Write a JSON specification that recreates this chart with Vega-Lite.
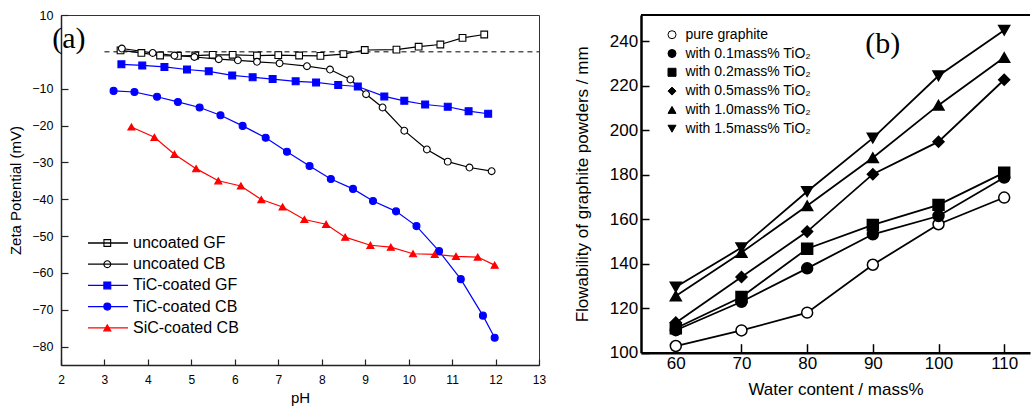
{
  "$schema": "https://vega.github.io/schema/vega-lite/v6.json",
  "background": "white",
  "padding": {"left": 8, "top": 8, "right": 0, "bottom": 0},
  "config": {"view": {"stroke": null}, "font": "Liberation Sans"},
  "resolve": {
    "scale": {"color": "independent", "shape": "independent", "fill": "independent", "stroke": "independent", "size": "independent"},
    "legend": {"color": "independent", "shape": "independent", "fill": "independent", "stroke": "independent", "size": "independent"}
  },
  "datasets": {
    "zeta": [
      {"series": "uncoated GF", "pH": 3.37, "zeta": 0.4},
      {"series": "uncoated GF", "pH": 3.85, "zeta": -0.3},
      {"series": "uncoated GF", "pH": 4.28, "zeta": -1.0},
      {"series": "uncoated GF", "pH": 4.69, "zeta": -1.1},
      {"series": "uncoated GF", "pH": 5.09, "zeta": -1.0},
      {"series": "uncoated GF", "pH": 5.49, "zeta": -0.8},
      {"series": "uncoated GF", "pH": 5.95, "zeta": -0.8},
      {"series": "uncoated GF", "pH": 6.51, "zeta": -1.0},
      {"series": "uncoated GF", "pH": 7.0, "zeta": -0.9},
      {"series": "uncoated GF", "pH": 7.48, "zeta": -1.0},
      {"series": "uncoated GF", "pH": 7.97, "zeta": -1.1},
      {"series": "uncoated GF", "pH": 8.5, "zeta": -0.6},
      {"series": "uncoated GF", "pH": 8.99, "zeta": 0.5},
      {"series": "uncoated GF", "pH": 9.72, "zeta": 0.6},
      {"series": "uncoated GF", "pH": 10.23, "zeta": 1.4},
      {"series": "uncoated GF", "pH": 10.73, "zeta": 2.0},
      {"series": "uncoated GF", "pH": 11.24, "zeta": 3.8},
      {"series": "uncoated GF", "pH": 11.74, "zeta": 4.7},
      {"series": "uncoated CB", "pH": 3.4, "zeta": 0.9},
      {"series": "uncoated CB", "pH": 4.11, "zeta": -0.3},
      {"series": "uncoated CB", "pH": 4.61, "zeta": -1.0},
      {"series": "uncoated CB", "pH": 5.07, "zeta": -1.4},
      {"series": "uncoated CB", "pH": 5.63, "zeta": -2.0},
      {"series": "uncoated CB", "pH": 6.07, "zeta": -2.3},
      {"series": "uncoated CB", "pH": 6.51, "zeta": -2.7},
      {"series": "uncoated CB", "pH": 7.03, "zeta": -3.1},
      {"series": "uncoated CB", "pH": 7.66, "zeta": -3.9},
      {"series": "uncoated CB", "pH": 8.19, "zeta": -4.8},
      {"series": "uncoated CB", "pH": 8.66, "zeta": -7.5},
      {"series": "uncoated CB", "pH": 9.02, "zeta": -11.5},
      {"series": "uncoated CB", "pH": 9.4, "zeta": -15.1},
      {"series": "uncoated CB", "pH": 9.9, "zeta": -21.4},
      {"series": "uncoated CB", "pH": 10.42, "zeta": -26.5},
      {"series": "uncoated CB", "pH": 10.9, "zeta": -29.8},
      {"series": "uncoated CB", "pH": 11.4, "zeta": -31.4},
      {"series": "uncoated CB", "pH": 11.91, "zeta": -32.4},
      {"series": "TiC-coated GF", "pH": 3.39, "zeta": -3.4},
      {"series": "TiC-coated GF", "pH": 3.87, "zeta": -3.7},
      {"series": "TiC-coated GF", "pH": 4.38, "zeta": -4.1},
      {"series": "TiC-coated GF", "pH": 4.9, "zeta": -4.8},
      {"series": "TiC-coated GF", "pH": 5.4, "zeta": -5.3},
      {"series": "TiC-coated GF", "pH": 5.94, "zeta": -6.4},
      {"series": "TiC-coated GF", "pH": 6.41, "zeta": -6.9},
      {"series": "TiC-coated GF", "pH": 6.87, "zeta": -7.4},
      {"series": "TiC-coated GF", "pH": 7.4, "zeta": -8.0},
      {"series": "TiC-coated GF", "pH": 7.87, "zeta": -8.3},
      {"series": "TiC-coated GF", "pH": 8.38, "zeta": -9.0},
      {"series": "TiC-coated GF", "pH": 8.83, "zeta": -9.4},
      {"series": "TiC-coated GF", "pH": 9.44, "zeta": -12.1},
      {"series": "TiC-coated GF", "pH": 9.9, "zeta": -13.3},
      {"series": "TiC-coated GF", "pH": 10.38, "zeta": -14.3},
      {"series": "TiC-coated GF", "pH": 10.9, "zeta": -14.9},
      {"series": "TiC-coated GF", "pH": 11.38, "zeta": -16.1},
      {"series": "TiC-coated GF", "pH": 11.83, "zeta": -16.8},
      {"series": "TiC-coated CB", "pH": 3.21, "zeta": -10.6},
      {"series": "TiC-coated CB", "pH": 3.69, "zeta": -10.9},
      {"series": "TiC-coated CB", "pH": 4.21, "zeta": -12.2},
      {"series": "TiC-coated CB", "pH": 4.69, "zeta": -13.6},
      {"series": "TiC-coated CB", "pH": 5.19, "zeta": -15.1},
      {"series": "TiC-coated CB", "pH": 5.67, "zeta": -17.2},
      {"series": "TiC-coated CB", "pH": 6.18, "zeta": -20.1},
      {"series": "TiC-coated CB", "pH": 6.71, "zeta": -23.3},
      {"series": "TiC-coated CB", "pH": 7.2, "zeta": -27.1},
      {"series": "TiC-coated CB", "pH": 7.72, "zeta": -31.0},
      {"series": "TiC-coated CB", "pH": 8.21, "zeta": -34.5},
      {"series": "TiC-coated CB", "pH": 8.72, "zeta": -37.2},
      {"series": "TiC-coated CB", "pH": 9.18, "zeta": -40.5},
      {"series": "TiC-coated CB", "pH": 9.71, "zeta": -43.3},
      {"series": "TiC-coated CB", "pH": 10.18, "zeta": -47.3},
      {"series": "TiC-coated CB", "pH": 10.7, "zeta": -54.1},
      {"series": "TiC-coated CB", "pH": 11.2, "zeta": -61.7},
      {"series": "TiC-coated CB", "pH": 11.71, "zeta": -71.6},
      {"series": "TiC-coated CB", "pH": 11.98, "zeta": -77.6},
      {"series": "SiC-coated CB", "pH": 3.62, "zeta": -20.4},
      {"series": "SiC-coated CB", "pH": 4.15, "zeta": -23.2},
      {"series": "SiC-coated CB", "pH": 4.61, "zeta": -27.8},
      {"series": "SiC-coated CB", "pH": 5.11, "zeta": -31.7},
      {"series": "SiC-coated CB", "pH": 5.62, "zeta": -35.0},
      {"series": "SiC-coated CB", "pH": 6.14, "zeta": -36.4},
      {"series": "SiC-coated CB", "pH": 6.61, "zeta": -40.1},
      {"series": "SiC-coated CB", "pH": 7.1, "zeta": -42.1},
      {"series": "SiC-coated CB", "pH": 7.6, "zeta": -45.5},
      {"series": "SiC-coated CB", "pH": 8.1, "zeta": -46.8},
      {"series": "SiC-coated CB", "pH": 8.54, "zeta": -50.3},
      {"series": "SiC-coated CB", "pH": 9.12, "zeta": -52.5},
      {"series": "SiC-coated CB", "pH": 9.59, "zeta": -53.0},
      {"series": "SiC-coated CB", "pH": 10.1, "zeta": -54.8},
      {"series": "SiC-coated CB", "pH": 10.6, "zeta": -55.0},
      {"series": "SiC-coated CB", "pH": 11.09, "zeta": -55.5},
      {"series": "SiC-coated CB", "pH": 11.59, "zeta": -55.7},
      {"series": "SiC-coated CB", "pH": 11.98, "zeta": -57.9}
    ],
    "flow": [
      {"series": "pure graphite", "water": 60, "flow": 103},
      {"series": "pure graphite", "water": 70, "flow": 110},
      {"series": "pure graphite", "water": 80, "flow": 118},
      {"series": "pure graphite", "water": 90, "flow": 139.5},
      {"series": "pure graphite", "water": 100, "flow": 157.7},
      {"series": "pure graphite", "water": 110, "flow": 169.7},
      {"series": "with 0.1mass% TiO₂", "water": 60, "flow": 110.1},
      {"series": "with 0.1mass% TiO₂", "water": 70, "flow": 122.9},
      {"series": "with 0.1mass% TiO₂", "water": 80, "flow": 137.9},
      {"series": "with 0.1mass% TiO₂", "water": 90, "flow": 153.2},
      {"series": "with 0.1mass% TiO₂", "water": 100, "flow": 161.4},
      {"series": "with 0.1mass% TiO₂", "water": 110, "flow": 178.7},
      {"series": "with 0.2mass% TiO₂", "water": 60, "flow": 111},
      {"series": "with 0.2mass% TiO₂", "water": 70, "flow": 125},
      {"series": "with 0.2mass% TiO₂", "water": 80, "flow": 146.7},
      {"series": "with 0.2mass% TiO₂", "water": 90, "flow": 157.4},
      {"series": "with 0.2mass% TiO₂", "water": 100, "flow": 166.4},
      {"series": "with 0.2mass% TiO₂", "water": 110, "flow": 180.9},
      {"series": "with 0.5mass% TiO₂", "water": 60, "flow": 113.5},
      {"series": "with 0.5mass% TiO₂", "water": 70, "flow": 134},
      {"series": "with 0.5mass% TiO₂", "water": 80, "flow": 154.4},
      {"series": "with 0.5mass% TiO₂", "water": 90, "flow": 180.2},
      {"series": "with 0.5mass% TiO₂", "water": 100, "flow": 194.8},
      {"series": "with 0.5mass% TiO₂", "water": 110, "flow": 222.6},
      {"series": "with 1.0mass% TiO₂", "water": 60, "flow": 125.5},
      {"series": "with 1.0mass% TiO₂", "water": 70, "flow": 145},
      {"series": "with 1.0mass% TiO₂", "water": 80, "flow": 166},
      {"series": "with 1.0mass% TiO₂", "water": 90, "flow": 187.6},
      {"series": "with 1.0mass% TiO₂", "water": 100, "flow": 211.2},
      {"series": "with 1.0mass% TiO₂", "water": 110, "flow": 232.6},
      {"series": "with 1.5mass% TiO₂", "water": 60, "flow": 129.5},
      {"series": "with 1.5mass% TiO₂", "water": 70, "flow": 147.2},
      {"series": "with 1.5mass% TiO₂", "water": 80, "flow": 172.4},
      {"series": "with 1.5mass% TiO₂", "water": 90, "flow": 196.4},
      {"series": "with 1.5mass% TiO₂", "water": 100, "flow": 224.4},
      {"series": "with 1.5mass% TiO₂", "water": 110, "flow": 244.9}
    ]
  },
  "bounds": "flush",
  "spacing": 102,
  "hconcat": [
    {
      "width": 478,
      "height": 350,
      "view": {"stroke": "#333333", "strokeWidth": 1},
      "data": {"name": "zeta"},
      "resolve": {"legend": {"color": "independent"}},
      "layer": [
        {
          "mark": {"type": "line", "strokeWidth": 1.2},
          "encoding": {
            "x": {
              "field": "pH", "type": "quantitative",
              "scale": {"domain": [2, 13], "nice": false, "zero": false},
              "axis": {
                "title": "pH", "titleFont": "Liberation Sans", "titleFontSize": 15, "titleFontWeight": "normal", "titleColor": "black", "titlePadding": 5,
                "values": [2, 2.5, 3, 3.5, 4, 4.5, 5, 5.5, 6, 6.5, 7, 7.5, 8, 8.5, 9, 9.5, 10, 10.5, 11, 11.5, 12, 12.5, 13],
                "labelExpr": "datum.value % 1 == 0 ? datum.label : ''",
                "labelFont": "Liberation Sans", "labelFontSize": 12, "labelColor": "black", "labelPadding": 15, "labelFlush": false, "labelAngle": 0, "labelOverlap": false,
                "tickSize": {"condition": {"test": "datum.value % 1 != 0", "value": -3}, "value": -6},
                "tickColor": "#222222", "tickWidth": 1.2, "domainColor": "#222222", "domainWidth": 1.5, "grid": false
              }
            },
            "y": {
              "field": "zeta", "type": "quantitative",
              "scale": {"domain": [-85, 10], "nice": false, "zero": false},
              "axis": {
                "title": "Zeta Potential (mV)", "titleFont": "Liberation Sans", "titleFontSize": 15, "titleFontWeight": "normal", "titleColor": "black", "titlePadding": 8,
                "values": [-80, -70, -60, -50, -40, -30, -20, -10, 10],
                "labelFont": "Liberation Sans", "labelFontSize": 12.5, "labelColor": "black", "labelPadding": 15, "labelFlush": false, "labelOverlap": false,
                "tickSize": -7,
                "tickColor": "#222222", "tickWidth": 1.2, "domainColor": "#222222", "domainWidth": 1.5, "grid": false
              }
            },
            "color": {
              "field": "series", "type": "nominal",
              "scale": {"domain": ["uncoated GF", "uncoated CB", "TiC-coated GF", "TiC-coated CB", "SiC-coated CB"], "range": ["black", "black", "#0000ff", "#0000ff", "#ff0000"]},
              "legend": {"orient": "none", "legendX": 39, "legendY": 220, "direction": "vertical", "title": null, "padding": 0, "symbolType": "M-5,0L5,0", "symbolSize": 64, "symbolStrokeWidth": 1.3, "labelExpr": "''", "rowPadding": 5.2, "labelFontSize": 16}
            }
          }
        },
        {
          "data": {"values": [{}]},
          "mark": {"type": "rule", "color": "black", "strokeWidth": 1, "strokeDash": [5, 4]},
          "encoding": {
            "x": {"datum": 3, "type": "quantitative"},
            "x2": {"datum": 13},
            "y": {"datum": 0, "type": "quantitative"}
          }
        },
        {
          "mark": {"type": "point", "filled": true, "opacity": 1, "strokeWidth": 1.1},
          "encoding": {
            "x": {"field": "pH", "type": "quantitative"},
            "y": {"field": "zeta", "type": "quantitative"},
            "shape": {
              "field": "series", "type": "nominal",
              "scale": {"domain": ["uncoated GF", "uncoated CB", "TiC-coated GF", "TiC-coated CB", "SiC-coated CB"], "range": ["square", "circle", "square", "circle", "triangle-up"]},
              "legend": {"orient": "none", "legendX": 38.3, "legendY": 220, "direction": "vertical", "title": null, "padding": 0, "labelFont": "Liberation Sans", "labelFontSize": 16, "labelColor": "black", "labelOffset": 17.7, "rowPadding": 5.2, "symbolStrokeWidth": 1.1, "symbolOpacity": 1}
            },
            "fill": {
              "field": "series", "type": "nominal",
              "scale": {"domain": ["uncoated GF", "uncoated CB", "TiC-coated GF", "TiC-coated CB", "SiC-coated CB"], "range": ["white", "white", "#0000ff", "#0000ff", "#ff0000"]},
              "legend": {"orient": "none", "legendX": 38.3, "legendY": 220, "direction": "vertical", "title": null, "padding": 0, "labelFont": "Liberation Sans", "labelFontSize": 16, "labelColor": "black", "labelOffset": 17.7, "rowPadding": 5.2, "symbolStrokeWidth": 1.1, "symbolOpacity": 1}
            },
            "stroke": {
              "field": "series", "type": "nominal",
              "scale": {"domain": ["uncoated GF", "uncoated CB", "TiC-coated GF", "TiC-coated CB", "SiC-coated CB"], "range": ["black", "black", "#0000ff", "#0000ff", "#ff0000"]},
              "legend": {"orient": "none", "legendX": 38.3, "legendY": 220, "direction": "vertical", "title": null, "padding": 0, "labelFont": "Liberation Sans", "labelFontSize": 16, "labelColor": "black", "labelOffset": 17.7, "rowPadding": 5.2, "symbolStrokeWidth": 1.1, "symbolOpacity": 1}
            },
            "size": {
              "field": "series", "type": "nominal",
              "scale": {"domain": ["uncoated GF", "uncoated CB", "TiC-coated GF", "TiC-coated CB", "SiC-coated CB"], "range": [45, 50, 40, 52, 80]},
              "legend": {"orient": "none", "legendX": 38.3, "legendY": 220, "direction": "vertical", "title": null, "padding": 0, "labelFont": "Liberation Sans", "labelFontSize": 16, "labelColor": "black", "labelOffset": 17.7, "rowPadding": 5.2, "symbolStrokeWidth": 1.1, "symbolOpacity": 1}
            }
          }
        },
        {
          "data": {"values": [{}]},
          "mark": {"type": "text", "font": "Liberation Serif", "fontSize": 30, "color": "black", "align": "center", "baseline": "middle"},
          "encoding": {
            "x": {"datum": 2.18, "type": "quantitative"},
            "y": {"datum": 3.5, "type": "quantitative"},
            "text": {"value": "(a)"}
          }
        }
      ]
    },
    {
      "width": 389,
      "height": 337.7,
      "data": {"name": "flow"},
      "layer": [
        {
          "mark": {"type": "line", "color": "black", "strokeWidth": 1.8},
          "encoding": {
            "x": {
              "field": "water", "type": "quantitative",
              "scale": {"domain": [54.7, 113.93], "nice": false, "zero": false},
              "axis": {
                "title": "Water content / mass%", "titleFont": "Liberation Sans", "titleFontSize": 17, "titleFontWeight": "normal", "titleColor": "black", "titlePadding": 10,
                "values": [60, 70, 80, 90, 100, 110],
                "labelFont": "Liberation Sans", "labelFontSize": 17, "labelColor": "black", "labelPadding": 12, "labelFlush": false, "labelAngle": 0, "labelOverlap": false,
                "tickSize": -9,
                "tickColor": "black", "tickWidth": 1.5, "domainColor": "black", "domainWidth": 2.5, "grid": false
              }
            },
            "y": {
              "field": "flow", "type": "quantitative",
              "scale": {"domain": [100, 251.7], "nice": false, "zero": false},
              "axis": {
                "title": "Flowability of graphite powders / mm", "titleFont": "Liberation Sans", "titleFontSize": 17, "titleFontWeight": "normal", "titleColor": "black", "titlePadding": 18,
                "values": [100, 110, 120, 130, 140, 150, 160, 170, 180, 190, 200, 210, 220, 230, 240, 250],
                "labelExpr": "datum.value % 20 == 0 && datum.value < 250 ? datum.label : ''",
                "labelFont": "Liberation Sans", "labelFontSize": 17, "labelColor": "black", "labelPadding": 11.3, "labelFlush": false, "labelOverlap": false,
                "tickSize": -8,
                "tickColor": "black", "tickWidth": 1.5, "domainColor": "black", "domainWidth": 2.5, "grid": false
              }
            },
            "detail": {"field": "series", "type": "nominal"}
          }
        },
        {
          "data": {"values": [{}]},
          "mark": {"type": "rule", "color": "black", "strokeWidth": 2},
          "encoding": {"y": {"datum": 251.7, "type": "quantitative"}}
        },
        {
          "mark": {"type": "point", "filled": true, "opacity": 1, "strokeWidth": 1.5, "size": 120},
          "encoding": {
            "x": {"field": "water", "type": "quantitative"},
            "y": {"field": "flow", "type": "quantitative"},
            "shape": {
              "field": "series", "type": "nominal",
              "scale": {"domain": ["pure graphite", "with 0.1mass% TiO₂", "with 0.2mass% TiO₂", "with 0.5mass% TiO₂", "with 1.0mass% TiO₂", "with 1.5mass% TiO₂"], "range": ["circle", "circle", "square", "diamond", "triangle-up", "triangle-down"]},
              "legend": {"orient": "none", "legendX": 24, "legendY": 12.7, "direction": "vertical", "title": null, "padding": 0, "labelFont": "Liberation Sans", "labelFontSize": 14, "labelColor": "black", "labelOffset": 6.5, "rowPadding": 4.8, "symbolSize": 64, "symbolStrokeWidth": 1, "symbolOpacity": 1}
            },
            "fill": {
              "field": "series", "type": "nominal",
              "scale": {"domain": ["pure graphite", "with 0.1mass% TiO₂", "with 0.2mass% TiO₂", "with 0.5mass% TiO₂", "with 1.0mass% TiO₂", "with 1.5mass% TiO₂"], "range": ["white", "black", "black", "black", "black", "black"]},
              "legend": {"orient": "none", "legendX": 24, "legendY": 12.7, "direction": "vertical", "title": null, "padding": 0, "labelFont": "Liberation Sans", "labelFontSize": 14, "labelColor": "black", "labelOffset": 6.5, "rowPadding": 4.8, "symbolSize": 64, "symbolStrokeWidth": 1, "symbolOpacity": 1}
            },
            "stroke": {
              "field": "series", "type": "nominal",
              "scale": {"domain": ["pure graphite", "with 0.1mass% TiO₂", "with 0.2mass% TiO₂", "with 0.5mass% TiO₂", "with 1.0mass% TiO₂", "with 1.5mass% TiO₂"], "range": ["black", "black", "black", "black", "black", "black"]},
              "legend": {"orient": "none", "legendX": 24, "legendY": 12.7, "direction": "vertical", "title": null, "padding": 0, "labelFont": "Liberation Sans", "labelFontSize": 14, "labelColor": "black", "labelOffset": 6.5, "rowPadding": 4.8, "symbolSize": 64, "symbolStrokeWidth": 1, "symbolOpacity": 1}
            }
          }
        },
        {
          "data": {"values": [{}]},
          "mark": {"type": "text", "font": "Liberation Serif", "fontSize": 30, "color": "black", "align": "center", "baseline": "middle"},
          "encoding": {
            "x": {"datum": 91.5, "type": "quantitative"},
            "y": {"datum": 238.5, "type": "quantitative"},
            "text": {"value": "(b)"}
          }
        }
      ]
    }
  ]
}
